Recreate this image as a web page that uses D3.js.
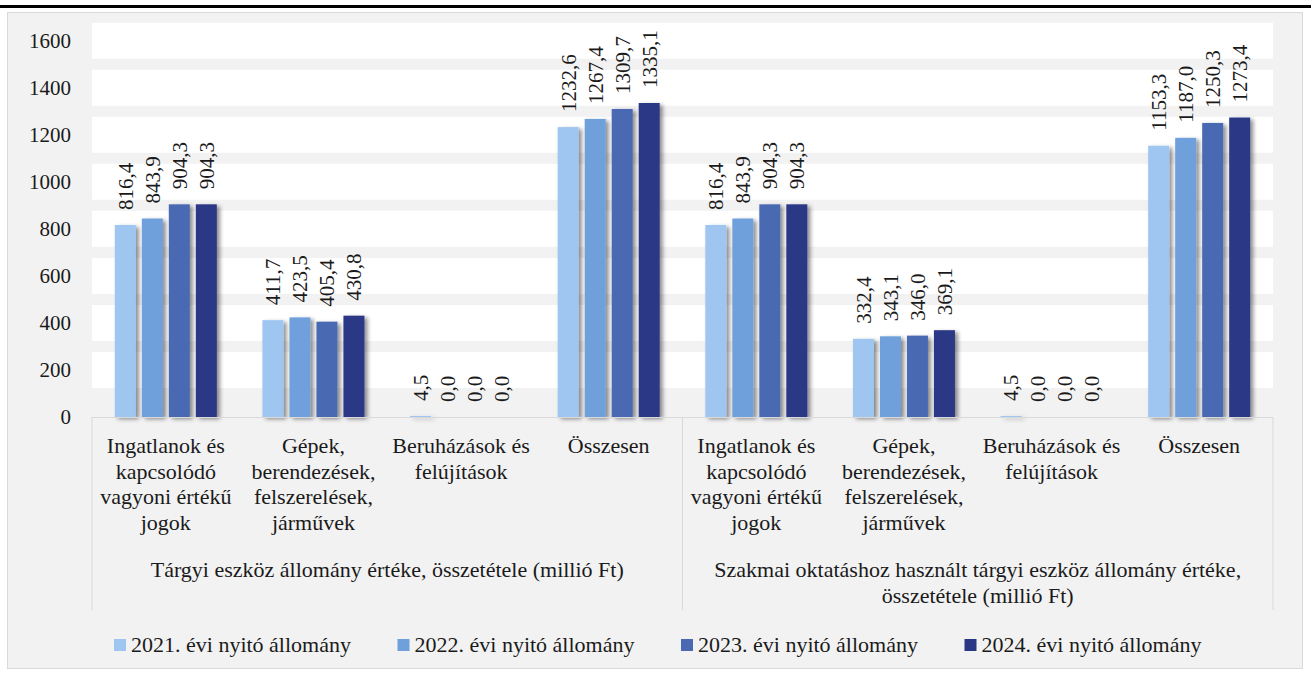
<!DOCTYPE html>
<html><head><meta charset="utf-8">
<script src="https://cdn.jsdelivr.net/npm/d3@7"></script>
<style>
body{margin:0;background:#fff;}
svg text{font-family:"Liberation Serif","DejaVu Serif",serif !important;fill:#1a1a1a;}
</style>
</head><body>
<svg id="c" width="1311" height="675" font-family="Liberation Serif, DejaVu Serif, serif"></svg>
<script>
// ---- data ----
const groupLabels = [
  ["Tárgyi eszköz állomány értéke, összetétele (millió Ft)"],
  ["Szakmai oktatáshoz használt tárgyi eszköz állomány értéke,", "összetétele (millió Ft)"]
];
const categoryLabels = [
  ["Ingatlanok és", "kapcsolódó", "vagyoni értékű", "jogok"],
  ["Gépek,", "berendezések,", "felszerelések,", "járművek"],
  ["Beruházások és", "felújítások"],
  ["Összesen"]
];
const seriesNames = ["2021. évi nyitó állomány", "2022. évi nyitó állomány", "2023. évi nyitó állomány", "2024. évi nyitó állomány"];
const seriesColors = ["#9fc5f1", "#70a0dc", "#4a69b2", "#2b3785"];
const values2021 = [816.4, 411.7, 4.5, 1232.6, 816.4, 332.4, 4.5, 1153.3];
const values2022 = [843.9, 423.5, 0.0, 1267.4, 843.9, 343.1, 0.0, 1187.0];
const values2023 = [904.3, 405.4, 0.0, 1309.7, 904.3, 346.0, 0.0, 1250.3];
const values2024 = [904.3, 430.8, 0.0, 1335.1, 904.3, 369.1, 0.0, 1273.4];
const yTicks = [0, 200, 400, 600, 800, 1000, 1200, 1400, 1600];

// ---- build ----
(function () {
const FONT = "Liberation Serif, DejaVu Serif, serif";
const seriesValues = [values2021, values2022, values2023, values2024];
const slots = [];
groupLabels.forEach((g, gi) => categoryLabels.forEach((c, ci) => slots.push({gi, ci, idx: gi * categoryLabels.length + ci})));

const svg = d3.select("#c");
const W = 1311;
const pL = 92, pR = 1273, pT = 40.7, pB = 417;

const defs = svg.append("defs");
const f = defs.append("filter").attr("id", "sh").attr("x", "-20%").attr("y", "-5%").attr("width", "160%").attr("height", "115%");
f.append("feDropShadow").attr("dx", 3).attr("dy", 2).attr("stdDeviation", 2.2).attr("flood-color", "#000").attr("flood-opacity", 0.45);

// cut-off title rule
svg.append("rect").attr("x", 0).attr("y", 5).attr("width", W).attr("height", 3).attr("fill", "#000");

// chart frame
svg.append("rect").attr("x", 7.5).attr("y", 12.5).attr("width", 1295).attr("height", 656)
  .attr("fill", "#f2f2f2").attr("stroke", "#d9d9d9").attr("stroke-width", 1);

const y = d3.scaleLinear().domain([0, 1600]).range([pB, pT]);
const x0 = d3.scaleBand().domain(slots.map(d => d.idx)).range([pL, pR]).paddingInner(0.309).paddingOuter(0.1545);
const x1 = d3.scaleBand().domain(d3.range(seriesNames.length)).range([0, x0.bandwidth()]).paddingInner(0.222);
const step = (pR - pL) / slots.length;

// white thick gridlines
svg.append("g").selectAll("line").data(yTicks.filter(t => t > 0)).join("line")
  .attr("x1", pL).attr("x2", pR).attr("y1", d => y(d)).attr("y2", d => y(d))
  .attr("stroke", "#fff").attr("stroke-width", 36);

// y axis
const ya = svg.append("g").attr("transform", `translate(${pL},0)`)
  .call(d3.axisLeft(y).tickValues(yTicks).tickSize(0).tickPadding(21).tickFormat(d3.format("d")));
ya.attr("font-family", FONT).attr("font-size", 21);
ya.select(".domain").remove();
ya.selectAll("text").attr("font-size", 21).attr("font-family", FONT).attr("fill", "#1a1a1a");

// bars
const fmt = v => d3.format(".1f")(v).replace(".", ",");
const barData = [];
slots.forEach(s => seriesValues.forEach((arr, si) => barData.push({s, si, v: arr[s.idx]})));
svg.append("g").attr("filter", "url(#sh)").selectAll("rect").data(barData).join("rect")
  .attr("x", d => x0(d.s.idx) + x1(d.si)).attr("width", x1.bandwidth())
  .attr("y", d => y(d.v)).attr("height", d => pB - y(d.v))
  .attr("fill", d => seriesColors[d.si]);

// value labels
svg.append("g").selectAll("text").data(barData).join("text")
  .attr("transform", d => `translate(${x0(d.s.idx) + x1(d.si) + x1.bandwidth() / 2},${y(d.v) - 15}) rotate(-90)`)
  .attr("dy", "0.35em").attr("font-size", 21).attr("font-family", FONT).attr("text-anchor", "start")
  .text(d => fmt(d.v));

// category axis lines
const axisCol = "#d9d9d9";
svg.append("line").attr("x1", pL).attr("x2", pR).attr("y1", pB + 0.5).attr("y2", pB + 0.5).attr("stroke", axisCol);
[0, categoryLabels.length, slots.length].forEach(k => {
  const xx = pL + k * step;
  svg.append("line").attr("x1", xx).attr("x2", xx).attr("y1", pB).attr("y2", 610).attr("stroke", axisCol);
});

// category labels
const catG = svg.append("g").selectAll("text").data(slots).join("text")
  .attr("x", d => x0(d.idx) + x0.bandwidth() / 2).attr("y", 453)
  .attr("text-anchor", "middle").attr("font-size", 22).attr("font-family", FONT);
catG.selectAll("tspan").data(d => categoryLabels[d.ci].map(t => ({t, x: x0(d.idx) + x0.bandwidth() / 2}))).join("tspan")
  .attr("x", d => d.x).attr("dy", (d, i) => i === 0 ? 0 : 25.5).text(d => d.t);

// group labels
const grpG = svg.append("g").selectAll("text").data(groupLabels).join("text")
  .attr("x", (d, i) => pL + (i + 0.5) * categoryLabels.length * step).attr("y", 577)
  .attr("text-anchor", "middle").attr("font-size", 22).attr("font-family", FONT);
grpG.each(function (d, i) {
  const xx = pL + (i + 0.5) * categoryLabels.length * step;
  d3.select(this).selectAll("tspan").data(d).join("tspan")
    .attr("x", xx).attr("dy", (t, j) => j === 0 ? 0 : 26).text(t => t);
});

// legend
const lg = svg.append("g").selectAll("g").data(seriesNames).join("g")
  .attr("transform", (d, i) => `translate(${114 + i * 283.5},645)`);
lg.append("rect").attr("x", 0).attr("y", -6).attr("width", 12).attr("height", 12).attr("fill", (d, i) => seriesColors[i]);
lg.append("text").attr("x", 17).attr("y", 7).attr("font-size", 22).attr("font-family", FONT).text(d => d);
})();
</script>
</body></html>
